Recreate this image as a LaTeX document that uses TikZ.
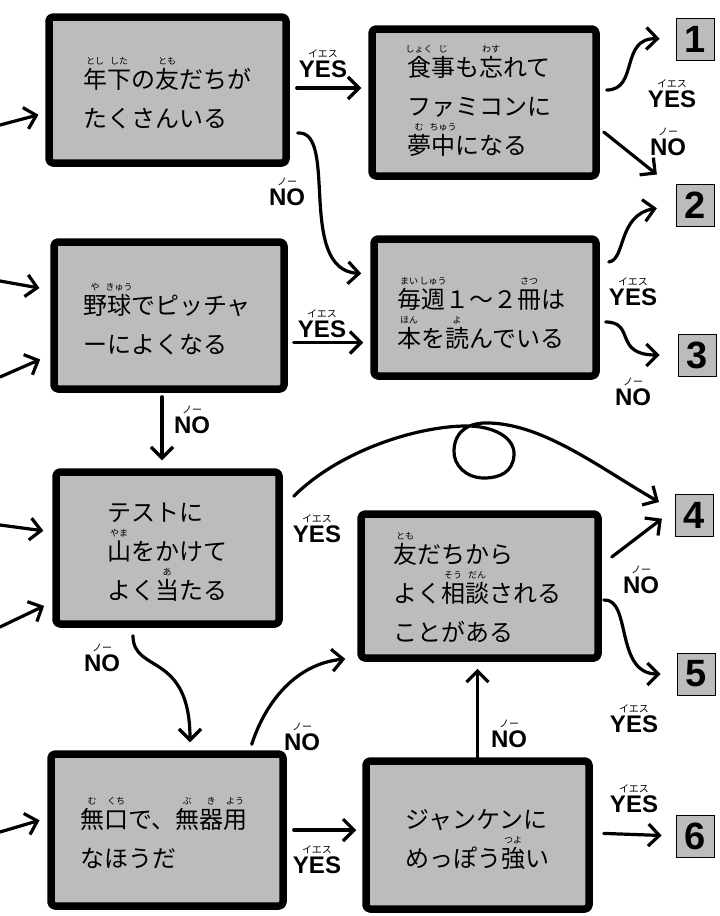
\documentclass[tikz,border=0pt]{standalone}
\usepackage{fontspec}
\setmainfont{Noto Sans CJK JP}
\newfontfamily\ynfont{Liberation Sans}
\usetikzlibrary{arrows.meta, positioning}
\definecolor{boxgray}{RGB}{188,188,188}
% reading above a kanji
\newcommand{\rb}[2]{\leavevmode\setbox0\hbox{#1}\rlap{\hbox to\wd0{\hss\raisebox{23.5pt}{\fontsize{9}{9}\selectfont #2}\hss}}\box0}
% YES / NO with its reading
\newcommand{\yn}[2]{\leavevmode\setbox0\hbox{\ynfont\bfseries #1}\rlap{\hbox to\wd0{\hss\raisebox{19.5pt}{\fontsize{10}{10}\selectfont #2}\hss}}\box0}
\newcommand{\qlines}[1]{\vtop{\baselineskip=39pt\lineskiplimit=-100pt\lineskip=0pt #1}}

\begin{document}
\begin{tikzpicture}[x=1pt, y=1pt,
    qbox/.style={rectangle, draw, line width=7.5pt, fill=boxgray, rounded corners=4pt, line join=round},
    qtext/.style={inner sep=0pt, anchor=base west, font=\fontsize{24}{24}\selectfont},
    result/.style={rectangle, draw, line width=0.8pt, fill=boxgray, minimum width=38pt, minimum height=42pt, inner sep=0pt, font=\ynfont\bfseries\fontsize{38}{38}\selectfont},
    answer/.style={inner sep=0pt, anchor=base, font=\fontsize{24}{24}\selectfont},
    arrow/.style={-{Straight Barb[length=11pt,width=22pt]}, line width=3.2pt, line cap=round, line join=round}
]
\useasboundingbox (0,0) rectangle (720,-916);
% Question boxes, left column
\node[qbox, minimum width=237pt, minimum height=146pt] (younger) at (167.5,-90) {};
\node[qbox, minimum width=230pt, minimum height=147pt] (pitcher) at (169,-315.5) {};
\node[qbox, minimum width=223pt, minimum height=152pt] (exam) at (167.5,-548) {};
\node[qbox, minimum width=232pt, minimum height=152pt] (quiet) at (167,-830) {};
% Question boxes, right column
\node[qbox, minimum width=224pt, minimum height=147pt] (famicom) at (484,-102.5) {};
\node[qbox, minimum width=222pt, minimum height=137pt] (books) at (485,-307.5) {};
\node[qbox, minimum width=237pt, minimum height=144pt] (advice) at (479.5,-586) {};
\node[qbox, minimum width=223pt, minimum height=148pt] (janken) at (477.5,-835) {};
% Texts
\node[qtext] (younger-t) at (83,-88) {\qlines{\hbox{\rb{年}{とし}\rb{下}{した}の\rb{友}{とも}だちが}\hbox{たくさんいる}}};
\node[qtext] (famicom-t) at (407,-76) {\qlines{\hbox{\rb{食}{しょく}\rb{事}{じ}も\rb{忘}{わす}れて}\hbox{ファミコンに}\hbox{\rb{夢}{む}\rb{中}{ちゅう}になる}}};
\node[qtext] (pitcher-t) at (83,-314) {\qlines{\hbox{\rb{野}{や}\rb{球}{きゅう}でピッチャ}\hbox{ーによくなる}}};
\node[qtext] (books-t) at (397,-308) {\qlines{\hbox{\rb{毎}{まい}\rb{週}{しゅう}１～２\rb{冊}{さつ}は}\hbox{\rb{本}{ほん}を\rb{読}{よ}んでいる}}};
\node[qtext] (exam-t) at (107,-521) {\qlines{\hbox{テストに}\hbox{\rb{山}{やま}をかけて}\hbox{よく\rb{当}{あ}たる}}};
\node[qtext] (advice-t) at (393,-563) {\qlines{\hbox{\rb{友}{とも}だちから}\hbox{よく\rb{相}{そう}\rb{談}{だん}される}\hbox{ことがある}}};
\node[qtext] (quiet-t) at (80,-828) {\qlines{\hbox{\rb{無}{む}\rb{口}{くち}で、\rb{無}{ぶ}\rb{器}{き}\rb{用}{よう}}\hbox{なほうだ}}};
\node[qtext] (janken-t) at (405,-828) {\qlines{\hbox{ジャンケンに}\hbox{めっぽう\rb{強}{つよ}い}}};
% Results
\node[result] (r1) at (695,-39) {1};
\node[result] (r2) at (695,-205) {2};
\node[result] (r3) at (697,-355) {3};
\node[result] (r4) at (694,-515) {4};
\node[result] (r5) at (696,-674) {5};
\node[result] (r6) at (695,-836) {6};
% Arrows coming in from the previous page
\coordinate (in1) at (0,-125);
\coordinate (in2) at (0,-281);
\coordinate (in3) at (0,-377);
\coordinate (in4) at (0,-525);
\coordinate (in5) at (0,-627);
\coordinate (in6) at (0,-832);
\draw[arrow, shorten >=7pt] (in1) -- ([yshift=-23pt]younger.west);
\draw[arrow, shorten >=11pt] (in2) -- ([yshift=25.5pt]pitcher.west);
\draw[arrow, shorten >=11pt] (in3) -- ([yshift=-39.5pt]pitcher.west);
\draw[arrow, shorten >=9pt] (in4) -- ([yshift=16pt]exam.west);
\draw[arrow, shorten >=9pt] (in5) -- ([yshift=-54pt]exam.west);
\draw[arrow, shorten >=8pt] (in6) -- ([yshift=12pt]quiet.west);
% Out of younger
\draw[arrow, shorten <=7pt, shorten >=7pt] ([yshift=2pt]younger.east) -- ([yshift=14.5pt]famicom.west);
\draw[arrow] ([xshift=8pt,yshift=-43pt]younger.east) .. controls +(41,3) and +(-65,3.5) .. ([xshift=-9pt,yshift=34pt]books.west);
\node[answer] (younger-y) at (323,-77) {\yn{YES}{イエス}};
\node[answer] (younger-n) at (287,-205) {\yn{NO}{ノー}};
% Out of famicom
\draw[arrow, shorten >=16pt] ([xshift=7pt,yshift=12.5pt]famicom.east) .. controls +(32,0) and +(-56,1) .. (r1.west);
\draw[arrow, shorten >=24pt] ([xshift=4pt,yshift=-29.5pt]famicom.east) -- (r2);
\node[answer] (famicom-y) at (672,-107) {\yn{YES}{イエス}};
\node[answer] (famicom-n) at (668,-155) {\yn{NO}{ノー}};
% Out of pitcher
\draw[arrow, shorten <=6pt, shorten >=7pt] ([yshift=-27pt]pitcher.east) -- ([yshift=-35pt]books.west);
\draw[arrow, shorten <=4pt, shorten >=8pt] ([xshift=-7pt]pitcher.south) -- ([xshift=-5.5pt]exam.north);
\node[answer] (pitcher-y) at (322,-337) {\yn{YES}{イエス}};
\node[answer] (pitcher-n) at (192,-433) {\yn{NO}{ノー}};
% Out of books
\draw[arrow, shorten >=19pt] ([xshift=9pt,yshift=45.5pt]books.east) .. controls +(17,2) and +(-58,-10) .. (r2.west);
\draw[arrow, shorten >=18pt] ([xshift=6pt,yshift=-14.5pt]books.east) .. controls +(30,0) and +(-64.5,0) .. (r3.west);
\node[answer] (books-y) at (633,-305) {\yn{YES}{イエス}};
\node[answer] (books-n) at (633,-405) {\yn{NO}{ノー}};
% Out of exam (with the loop)
\draw[arrow, shorten >=18pt] ([xshift=11pt,yshift=-28pt]exam.north east)
    .. controls (340,-450) and (420,-425) .. (470,-426)
    .. controls (495,-427) and (515,-438) .. (514,-455)
    .. controls (513,-472) and (500,-478) .. (484,-478)
    .. controls (466,-478) and (453,-465) .. (454,-450)
    .. controls (455,-430) and (470,-422) .. (490,-423)
    .. controls (545,-425) and (600,-468) .. ([yshift=4pt]r4.west);
\draw[arrow, shorten >=8pt] ([xshift=-34.5pt,yshift=-8pt]exam.south) .. controls +(0,-38) and +(0,99) .. ([xshift=23pt]quiet.north);
\node[answer] (exam-y) at (317,-542) {\yn{YES}{イエス}};
\node[answer] (exam-n) at (102,-671) {\yn{NO}{ノー}};
% Out of advice
\draw[arrow, shorten >=16pt] ([xshift=10pt,yshift=29pt]advice.east) -- ([yshift=6pt]r4.west);
\draw[arrow, shorten >=16pt] ([xshift=2pt,yshift=-14pt]advice.east) .. controls +(28,2) and +(-62,0) .. (r5.west);
\node[answer] (advice-n) at (641,-593) {\yn{NO}{ノー}};
\node[answer] (advice-y) at (634,-732) {\yn{YES}{イエス}};
% Out of quiet
\draw[arrow, shorten >=12pt] ([xshift=-35pt,yshift=6pt]quiet.north east) .. controls +(14,43) and +(-61,-6) .. ([yshift=4pt]advice.south west);
\draw[arrow, shorten <=7pt, shorten >=6pt] (quiet.east) -- (janken.west |- quiet.east);
\node[answer] (quiet-n) at (302,-750) {\yn{NO}{ノー}};
\node[answer] (quiet-y) at (317,-873) {\yn{YES}{イエス}};
% Out of janken
\draw[arrow, shorten >=7pt] (janken.north) -- (janken.north |- advice.south);
\draw[arrow, shorten <=11pt, shorten >=14pt] ([yshift=2pt]janken.east) -- (r6.west);
\node[answer] (janken-n) at (509,-747) {\yn{NO}{ノー}};
\node[answer] (janken-y) at (634,-812) {\yn{YES}{イエス}};
\end{tikzpicture}
\end{document}
